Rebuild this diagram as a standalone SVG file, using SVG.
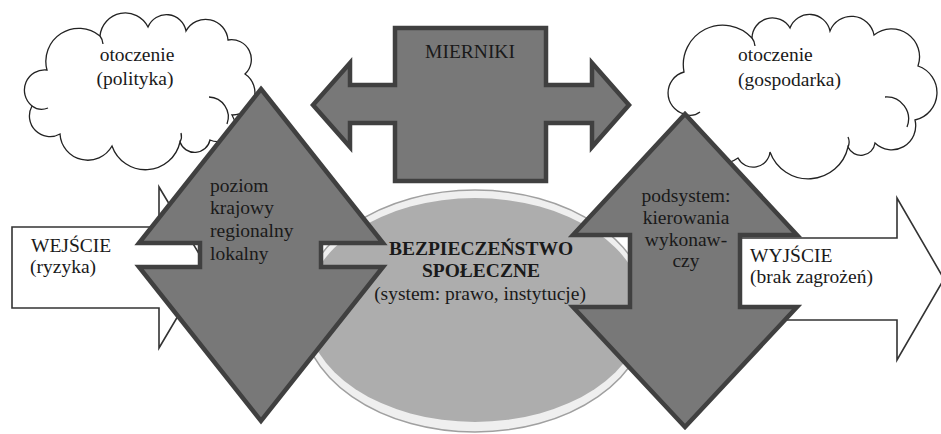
<svg xmlns="http://www.w3.org/2000/svg" width="941" height="434" viewBox="0 0 941 434" font-family="'Liberation Serif', Tinos, 'Noto Serif', 'DejaVu Serif', serif">
<style>
.cloud{fill:#fff;stroke:#222;stroke-width:1.3}
.inner{fill:none;stroke:#222;stroke-width:1.3}
.dark{fill:#787878;stroke:#404040;stroke-width:4.5;stroke-linejoin:miter}
.io{fill:#fff;stroke:#333;stroke-width:1.6}
text{font-family:'Liberation Serif', Tinos, 'Noto Serif', 'DejaVu Serif', serif;font-size:19.5px;fill:#1a1a1a}
.b{font-weight:bold}
.m{text-anchor:middle}
</style>
<rect width="941" height="434" fill="#fff"/>
<g id="cloud-left">
<path class="cloud" d="M47,70 A33,33 0 0 1 100,36 A25.4,25.4 0 0 1 148,27 A19.9,19.9 0 0 1 186,31 A22.4,22.4 0 0 1 228,40 A19.8,19.8 0 0 1 245,74 A22.4,22.4 0 0 1 232,115 A17.3,17.3 0 0 1 210,140 A15.6,15.6 0 0 1 180,142 A35.4,35.4 0 0 1 112,146 A27.8,27.8 0 0 1 60,134 A20.6,20.6 0 0 1 32,106 A20.3,20.3 0 0 1 47,70 Z"/>
<path class="inner" d="M209,97 A20,20 0 0 1 227,124 M32,106 A16,16 0 0 0 48,108 M180,142 A12,12 0 0 0 181,133 M100,36 A14,14 0 0 1 103,44"/>
<text class="m" x="137" y="61">otoczenie</text>
<text class="m" x="135" y="85">(polityka)</text>
</g>
<g id="cloud-right">
<path class="cloud" d="M684,72 A39.5,39.5 0 0 1 752,38 A20.4,20.4 0 0 1 790,28 A20.9,20.9 0 0 1 830,31 A23,23 0 0 1 874,35 A28,28 0 0 1 918,66 A28.1,28.1 0 0 1 915,120 A24,24 0 0 1 875,143 A14.2,14.2 0 0 1 848,147 A40.7,40.7 0 0 1 770,152 A17,17 0 0 1 738,158 A36.2,36.2 0 0 1 684,114 A21.8,21.8 0 0 1 684,72 Z"/>
<path class="inner" d="M885,97 A22,22 0 0 1 907,127 M684,114 A16,16 0 0 0 700,112 M848,147 A12,12 0 0 0 848,137 M752,38 A14,14 0 0 1 755,46"/>
<text x="738" y="61">otoczenie</text>
<text x="738" y="86">(gospodarka)</text>
</g>
<g id="wejscie">
<polygon class="io" points="12,227 159,227 159,187 207,267 159,348 159,308 12,308"/>
<text x="31" y="252">WEJŚCIE</text>
<text x="30" y="273">(ryzyka)</text>
</g>
<g id="wyjscie">
<polygon class="io" points="700,238 897,238 897,198 944,279 897,360 897,320 700,320"/>
<text x="750" y="262">WYJŚCIE</text>
<text x="750" y="283">(brak zagrożeń)</text>
</g>
<g id="bezpieczenstwo">
<ellipse cx="475" cy="311" rx="174" ry="121" fill="#efefef" stroke="#a0a0a0" stroke-width="1.5"/>
<ellipse cx="475" cy="310" rx="169" ry="112" fill="#adadad"/>
</g>
<g id="mierniki">
<polygon class="dark" points="395,28 546,28 546,85 592,85 592,63 629,105 592,147 592,123 546,123 546,181 395,181 395,123 350,123 350,147 313,105 350,63 350,85 395,85"/>
<text class="m" x="470" y="58">MIERNIKI</text>
</g>
<g id="poziom">
<polygon class="dark" points="261,89 383,243 321,243 321,267 383,267 261,421 139,267 200,267 200,243 139,243"/>
<text x="210" y="192">poziom</text>
<text x="210" y="214">krajowy</text>
<text x="210" y="237">regionalny</text>
<text x="210" y="260">lokalny</text>
</g>
<g id="podsystem">
<polygon class="dark" points="685,114 797,235 740,235 740,307 797,307 685,427 573,307 630,307 630,235 573,235"/>
<text class="m" x="686" y="202">podsystem:</text>
<text class="m" x="686" y="224">kierowania</text>
<text class="m" x="686" y="246">wykonaw-</text>
<text class="m" x="686" y="267">czy</text>
</g>
<g id="bezpieczenstwo-label">
<text class="m b" x="481" y="255">BEZPIECZEŃSTWO</text>
<text class="m b" x="481" y="277">SPOŁECZNE</text>
<text class="m" x="480" y="300">(system: prawo, instytucje)</text>
</g>
<g id="connectors"/>
</svg>
